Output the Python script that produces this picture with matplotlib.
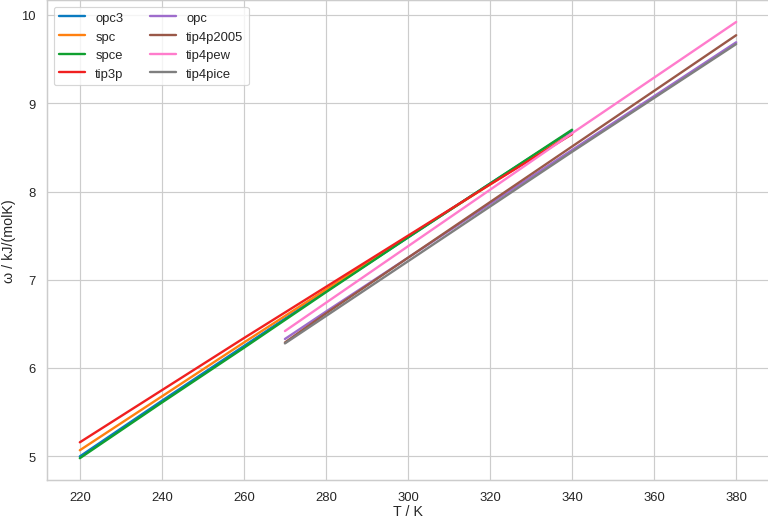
#!/usr/bin/env python3
import matplotlib
matplotlib.use("Agg")
import matplotlib.pyplot as plt
import seaborn as sns

# temperatures (K) and omega values (kJ/(mol K))
T_low = [220, 240, 260, 280, 300, 320, 340]
T_high = [270, 280, 300, 320, 340, 360, 380]

opc3 = [5.00, 5.63, 6.25, 6.87, 7.48, 8.09, 8.69]
spc = [5.07, 5.68, 6.29, 6.89, 7.49, 8.08, 8.66]
spce = [4.98, 5.61, 6.23, 6.86, 7.48, 8.09, 8.70]
tip3p = [5.16, 5.75, 6.34, 6.92, 7.50, 8.08, 8.65]
opc = [6.33, 6.64, 7.25, 7.86, 8.47, 9.08, 9.69]
tip4p2005 = [6.29, 6.62, 7.25, 7.88, 8.51, 9.14, 9.77]
tip4pew = [6.42, 6.74, 7.38, 8.02, 8.66, 9.29, 9.92]
tip4pice = [6.28, 6.59, 7.21, 7.83, 8.45, 9.06, 9.67]

series = [
    ("opc3", T_low, opc3),
    ("spc", T_low, spc),
    ("spce", T_low, spce),
    ("tip3p", T_low, tip3p),
    ("opc", T_high, opc),
    ("tip4p2005", T_high, tip4p2005),
    ("tip4pew", T_high, tip4pew),
    ("tip4pice", T_high, tip4pice),
]
colors = ["#0a7bc0", "#ff8010", "#10a030", "#f02020",
          "#9e6ccc", "#9a5848", "#ff7ccc", "#7f7f7f"]

sns.set_theme(style="whitegrid")
plt.rcParams['font.family'] = ['Liberation Sans', 'DejaVu Sans']

# figure is 9 x 6.08 in at ~85 dpi -> 768 x 519 px
fig = plt.figure(figsize=(9, 6.08), dpi=768 / 9)
ax = fig.add_axes([47 / 768, 38 / 519, 722 / 768, 480 / 519])
for (name, t, w), c in zip(series, colors):
    ax.plot(t, w, label=name, color=c, linewidth=2)

ax.tick_params(axis="x", pad=3)
ax.set_xlabel("T / K", labelpad=1)
ax.set_ylabel("ω / kJ/(molK)")
ax.legend(loc="upper left", ncol=2)
plt.savefig("out.png")
plt.close()
